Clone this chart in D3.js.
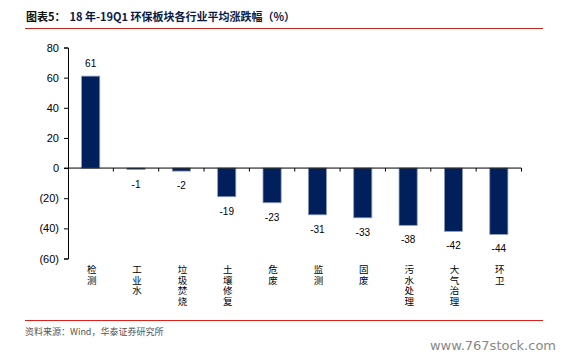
<!DOCTYPE html>
<html>
<head>
<meta charset="utf-8">
<script src="https://cdn.jsdelivr.net/npm/d3@7"></script>
<style>
  body { margin: 0; background: #fff; }
  svg { display: block; }
</style>
</head>
<body>
<div id="chart"></div>
<script>
// categories (drawn as vertical text)
var categories = ["检测", "工业水", "垃圾焚烧", "土壤修复", "危废", "监测", "固废", "污水处理", "大气治理", "环卫"];
var values = [61, -1, -2, -19, -23, -31, -33, -38, -42, -44];
var yTicks = [80, 60, 40, 20, 0, -20, -40, -60];

var W = 563, H = 358;
var svg = d3.select("#chart").append("svg")
    .attr("width", W)
    .attr("height", H);

var cjk = "'Noto Sans CJK SC', sans-serif";
var latin = "'Liberation Sans', Arial, sans-serif";

// title
var title = svg.append("text")
    .attr("x", 26)
    .attr("y", 21)
    .style("font-family", cjk)
    .style("font-size", "11px")
    .style("font-weight", "bold")
    .style("fill", "#111");
title.append("tspan").text("图表5：");
title.append("tspan").attr("dx", 4).style("fill", "#0b1a45").text("18 年-19Q1 环保板块各行业平均涨跌幅（%）");

// red rules
svg.append("line").attr("x1", 25).attr("x2", 543).attr("y1", 28.5).attr("y2", 28.5)
    .style("stroke", "#c8281e").style("stroke-width", 1.2);
svg.append("line").attr("x1", 25).attr("x2", 543).attr("y1", 320.5).attr("y2", 320.5)
    .style("stroke", "#e0201a").style("stroke-width", 1);

// scales
var x = d3.scaleBand()
    .domain(categories)
    .range([68, 521.5])
    .paddingInner(0.6)
    .paddingOuter(0.3);

var y = d3.scaleLinear()
    .domain([-60, 80])
    .range([258.5, 47.5]);

// y axis
var yAxis = svg.append("g")
    .attr("transform", "translate(68,0)")
    .call(d3.axisLeft(y)
        .tickValues(yTicks)
        .tickSize(4)
        .tickFormat(function(d){ return d < 0 ? "(" + (-d) + ")" : d; }));
yAxis.select(".domain").style("stroke", "#000");
yAxis.selectAll(".tick line").style("stroke", "#000");
yAxis.selectAll(".tick text")
    .attr("x", -9)
    .style("font-family", latin)
    .style("font-size", "11px")
    .style("fill", "#000");

// bars
svg.selectAll("rect.bar")
    .data(values)
    .enter()
    .append("rect")
    .attr("class", "bar")
    .attr("x", function(d, i){ return x(categories[i]); })
    .attr("width", x.bandwidth())
    .attr("y", function(d){ return y(Math.max(d, 0)); })
    .attr("height", function(d){ return Math.abs(y(d) - y(0)); })
    .style("fill", "#001f5b")
    .style("stroke", "#8d9bbb")
    .style("stroke-width", 0.8);

// x axis at zero with ticks between categories
var step = x.step();
var xAxis = svg.append("g");
xAxis.append("line")
    .attr("x1", 64).attr("x2", 521.5)
    .attr("y1", y(0)).attr("y2", y(0))
    .style("stroke", "#000");
xAxis.selectAll("line.xt")
    .data(d3.range(1, categories.length + 1))
    .enter()
    .append("line")
    .attr("class", "xt")
    .attr("x1", function(i){ return 68 + i * step; })
    .attr("x2", function(i){ return 68 + i * step; })
    .attr("y1", y(0))
    .attr("y2", y(0) + 3.5)
    .style("stroke", "#000");

// value labels
svg.selectAll("text.val")
    .data(values)
    .enter()
    .append("text")
    .attr("class", "val")
    .attr("x", function(d, i){ return x(categories[i]) + x.bandwidth() / 2; })
    .attr("y", function(d){ return d >= 0 ? y(d) - 9 : y(d) + 18; })
    .attr("text-anchor", "middle")
    .style("font-family", latin)
    .style("font-size", "10px")
    .style("fill", "#000")
    .text(function(d){ return d; });

// category labels, vertical text
svg.selectAll("text.cat")
    .data(categories)
    .enter()
    .append("text")
    .attr("class", "cat")
    .attr("x", function(d){ return x(d) + x.bandwidth() / 2 + 1; })
    .attr("y", 265)
    .style("writing-mode", "vertical-rl")
    .style("text-orientation", "upright")
    .style("letter-spacing", "1px")
    .style("font-family", cjk)
    .style("font-size", "9.5px")
    .style("fill", "#000")
    .text(function(d){ return d; });

// source note
svg.append("text")
    .attr("x", 25)
    .attr("y", 335)
    .style("font-family", cjk)
    .style("font-size", "9px")
    .style("fill", "#555")
    .text("资料来源：Wind，华泰证券研究所");

// watermark
svg.append("text")
    .attr("x", 556)
    .attr("y", 350)
    .attr("text-anchor", "end")
    .style("font-family", "'DejaVu Sans', Verdana, sans-serif")
    .style("font-size", "13px")
    .style("fill", "#888")
    .text("www.767stock.com");
</script>
</body>
</html>
